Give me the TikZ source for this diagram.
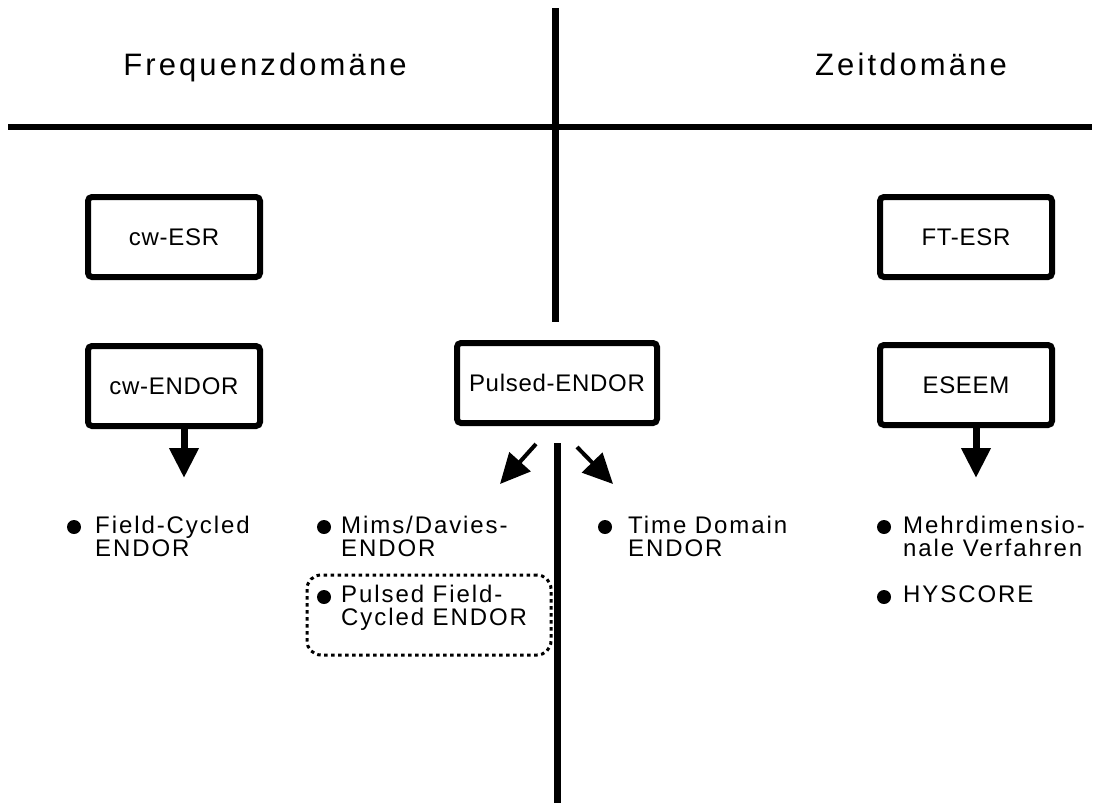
\documentclass[tikz,border=0pt]{standalone}
\usepackage{fontspec}
\setmainfont{Liberation Sans}
\newfontfamily\headfont[LetterSpace=10]{Liberation Sans}
\newfontfamily\boxfont[LetterSpace=3]{Liberation Sans}
\newfontfamily\listfont[LetterSpace=8]{Liberation Sans}
\usetikzlibrary{arrows.meta}
\begin{document}
\begin{tikzpicture}[x=1pt,y=-1pt,
  divider/.style={line width=7pt},
  head/.style={anchor=base,inner sep=0pt,font=\headfont\fontsize{31}{31}\selectfont},
  methodbox/.style={draw,line width=6pt,rounded corners=4pt,minimum width=172pt,minimum height=80pt,inner sep=0pt,font=\boxfont\fontsize{24}{24}\selectfont},
  item/.style={anchor=base west,inner sep=0pt,align=left,font=\listfont\fontsize{24}{23}\selectfont},
  bul/.style={circle,fill=black,inner sep=0pt,minimum size=14pt},
  bigarrow/.style={line width=7pt,-{Triangle[length=30pt,width=28pt]}},
  diagarrow/.style={line width=4pt,-{Triangle[length=30pt,width=28pt]}},
  dotbox/.style={draw,line width=3pt,dash pattern=on 3.5pt off 3.5pt,rounded corners=14pt,minimum width=244pt,minimum height=80pt,inner sep=0pt}
]
\useasboundingbox (0,0) rectangle (1100,803);
% dividers
\coordinate (hl) at (8,127);
\coordinate (hr) at (1092,127);
\coordinate (vt1) at (555.5,8);
\coordinate (vt2) at (555.5,322);
\coordinate (vb1) at (557.5,443);
\coordinate (vb2) at (557.5,803);
\draw[line width=6pt] (hl) -- (hr);
\draw[divider] (vt1) -- (vt2);
\draw[divider] (vb1) -- (vb2);
% headers
\node[head] (freq) at (265,75) {Frequenzdomäne};
\node[head] (zeit) at (911,75) {Zeitdomäne};
% boxes
\node[methodbox] (cwesr) at (174,237) {cw-ESR};
\node[methodbox] (ftesr) at (966,237) {FT-ESR};
\node[methodbox] (cwendor) at (174,386) {cw-ENDOR};
\node[methodbox,minimum width=200pt] (pendor) at (557,383) {Pulsed-ENDOR};
\node[methodbox] (eseem) at (966,385) {ESEEM};
% arrows
\coordinate (t1) at (184,478);
\coordinate (t4) at (976,478);
\draw[bigarrow] ([xshift=10pt]cwendor.south) -- (t1);
\draw[bigarrow] ([xshift=10pt]eseem.south) -- (t4);
\coordinate (s2) at (536,444);
\coordinate (t2) at (500,484);
\coordinate (s3) at (577,447);
\coordinate (t3) at (613,484);
\draw[diagarrow] (s2) -- (t2);
\draw[diagarrow] (s3) -- (t3);
% lists
\node[bul] (b1) at (74,527) {};
\node[item] (l1) at (95,556) {Field-Cycled\\ENDOR};
\node[bul] (b2) at (324,527) {};
\node[item] (l2) at (341,556) {Mims/Davies-\\ENDOR};
\node[bul] (b3) at (324,597) {};
\node[item] (l3) at (341,625) {Pulsed Field-\\Cycled ENDOR};
\node[dotbox] (hilite) at (429,615) {};
\node[bul] (b4) at (605,527) {};
\node[item] (l4) at (628,556) {Time Domain\\ENDOR};
\node[bul] (b5) at (884,527) {};
\node[item] (l5) at (903,556) {Mehrdimensio-\\nale Verfahren};
\node[bul] (b6) at (884,597) {};
\node[item] (l6) at (903,602) {HYSCORE};
\end{tikzpicture}
\end{document}
